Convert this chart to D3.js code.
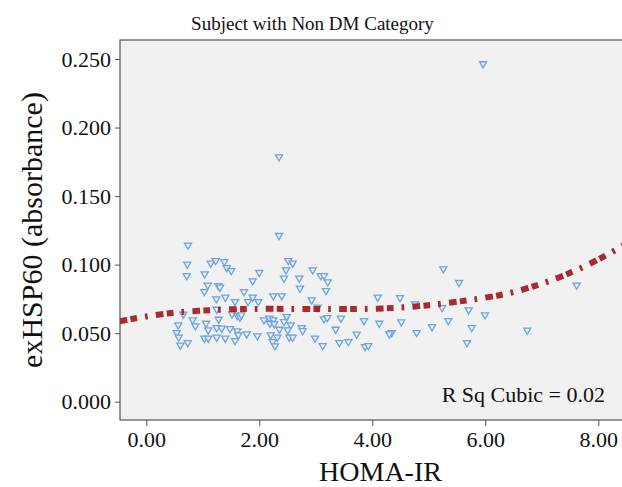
<!DOCTYPE html>
<html><head><meta charset="utf-8">
<script src="https://cdn.jsdelivr.net/npm/d3@7"></script>
<style>
html,body{margin:0;padding:0;background:#fff;}
svg{display:block;}
svg text{font-family:"Liberation Serif","Times New Roman",serif !important;}
</style></head>
<body><svg id="chart" width="622" height="487"></svg>
<script>
const titleText = "Subject with Non DM Category";
const xLabel = "HOMA-IR";
const yLabel = "exHSP60 (absorbance)";
const rsqText = "R Sq Cubic = 0.02";
const xTicks = [0, 2, 4, 6, 8];
const yTicks = [0, 0.05, 0.10, 0.15, 0.20, 0.25];

const homaIR = [
 0.738,0.726,0.715,1.140,1.228,1.381,1.423,1.504,1.034,1.087,1.274,1.304,1.027,1.239,1.398,1.570,1.729,1.800,
 0.655,1.246,1.517,1.611,1.658,0.821,0.867,0.566,1.281,1.057,1.097,1.246,1.335,1.481,1.611,1.628,1.777,
 0.538,0.573,1.027,1.097,1.246,1.398,1.570,0.602,0.733,
 2.349,2.513,2.591,2.000,2.473,2.437,2.945,3.087,3.145,3.211,3.181,2.708,2.720,1.883,2.248,2.396,1.883,1.982,
 2.927,4.096,3.034,1.681,2.083,2.177,2.248,2.189,2.265,2.485,2.437,2.556,2.354,2.503,2.750,2.768,3.145,3.204,
 3.446,3.853,3.352,3.724,4.124,1.965,2.202,2.319,2.237,2.278,2.531,2.591,2.986,3.122,3.416,3.575,3.871,3.929,
 5.257,5.535,4.490,4.756,5.234,5.706,5.995,4.513,5.345,5.057,5.759,4.343,4.301,4.786,6.743,7.618,5.676,
 5.960,2.349
];
const exHSP60 = [
 0.1142,0.1003,0.0920,0.1010,0.1029,0.1022,0.0978,0.0956,0.0932,0.0850,0.0847,0.0835,0.0803,0.0750,0.0762,0.0730,0.0803,0.0730,
 0.0638,0.0674,0.0640,0.0628,0.0616,0.0596,0.0553,0.0560,0.0601,0.0572,0.0523,0.0540,0.0536,0.0533,0.0516,0.0487,0.0494,
 0.0504,0.0470,0.0463,0.0463,0.0470,0.0463,0.0445,0.0412,0.0431,
 0.1212,0.1029,0.1010,0.0942,0.0961,0.0901,0.0961,0.0920,0.0920,0.0874,0.0810,0.0901,0.0828,0.0881,0.0772,0.0772,0.0762,0.0730,
 0.0742,0.0762,0.0689,0.0633,0.0596,0.0609,0.0596,0.0572,0.0567,0.0620,0.0584,0.0560,0.0528,0.0523,0.0540,0.0518,0.0604,0.0613,
 0.0609,0.0591,0.0528,0.0492,0.0572,0.0480,0.0487,0.0470,0.0438,0.0407,0.0470,0.0470,0.0463,0.0409,0.0431,0.0438,0.0401,0.0409,
 0.0969,0.0869,0.0759,0.0713,0.0686,0.0669,0.0633,0.0582,0.0591,0.0547,0.0540,0.0504,0.0494,0.0504,0.0521,0.0850,0.0431,
 0.2465,0.1786
];

// cubic fit line
const fitX = [-0.47, 0, 0.5, 1, 1.5, 2, 2.5, 3, 3.5, 4, 4.5, 5, 5.5, 6, 6.5, 7, 7.5, 8, 8.45];
const fitY = [0.0587,0.0622,0.0649,0.0665,0.0674,0.0677,0.0677,0.0676,0.0676,0.0678,0.0687,0.0704,0.0729,0.0759,0.0800,0.0861,0.0940,0.1038,0.1140];

const svg = d3.select("#chart");
const plot = {left:120, top:40, right:623, bottom:420};

const x = d3.scaleLinear().domain([0, 8]).range([146.3, 598.3]);
const y = d3.scaleLinear().domain([0, 0.25]).range([401.7, 59]);

svg.append("defs").append("clipPath").attr("id","clip")
  .append("rect").attr("x",plot.left).attr("y",plot.top)
  .attr("width",plot.right-plot.left).attr("height",plot.bottom-plot.top);

svg.append("rect").attr("x",plot.left).attr("y",plot.top)
  .attr("width",plot.right-plot.left).attr("height",plot.bottom-plot.top)
  .attr("fill","#f1f1f1").attr("stroke","#555").attr("stroke-width",1.2);

const serif = "Liberation Serif, Times New Roman, serif";

// axes
const yAxis = d3.axisLeft(y).tickValues(yTicks).tickFormat(d3.format(".3f")).tickSizeOuter(0).tickSize(5).tickPadding(4);
const gy = svg.append("g").attr("transform",`translate(${plot.left},0)`).call(yAxis)
  .attr("font-family", serif).attr("font-size", 22);
gy.select(".domain").remove();
gy.selectAll("line").attr("stroke","#555");
gy.selectAll("text").style("font-family",serif).style("font-size","22px").attr("fill","#111");

const xAxis = d3.axisBottom(x).tickValues(xTicks).tickFormat(d3.format(".2f")).tickSizeOuter(0).tickSize(6).tickPadding(5);
const gx = svg.append("g").attr("transform",`translate(0,${plot.bottom})`).call(xAxis)
  .attr("font-family", serif).attr("font-size", 22);
gx.select(".domain").remove();
gx.selectAll("line").attr("stroke","#555");
gx.selectAll("text").style("font-family",serif).style("font-size","22px").attr("fill","#111");

// points
const pts = homaIR.map((h,i)=>({x:h,y:exHSP60[i]}));
const tri = d3.symbol().type(d3.symbolTriangle).size(22);
svg.append("g").attr("clip-path","url(#clip)")
  .selectAll("path").data(pts).join("path")
  .attr("d", tri)
  .attr("transform", d=>`translate(${x(d.x)},${y(d.y)}) rotate(180)`)
  .attr("fill","#e6eef8").attr("stroke","#6fa3dc").attr("stroke-width",1.3);

// fit line
const fit = fitX.map((v,i)=>({x:v,y:fitY[i]}));
svg.append("path").attr("clip-path","url(#clip)")
  .datum(fit)
  .attr("d", d3.line().x(d=>x(d.x)).y(d=>y(d.y)).curve(d3.curveNatural))
  .attr("fill","none").attr("stroke","#a41f24").attr("stroke-width",6)
  .attr("stroke-dasharray","7.7,3.3,6.7,8,2.7,8.3").attr("opacity",0.95);

// texts
svg.append("text").attr("x",312.5).attr("y",30).attr("text-anchor","middle")
  .style("font-family",serif).attr("font-size","19px").attr("fill","#111").text(titleText);
svg.append("text").attr("x",380.5).attr("y",481).attr("text-anchor","middle")
  .style("font-family",serif).attr("font-size","28px").attr("fill","#111").text(xLabel);
svg.append("text").attr("transform","translate(42,230) rotate(-90)").attr("text-anchor","middle")
  .style("font-family",serif).attr("font-size","30px").attr("fill","#111").text(yLabel);
svg.append("text").attr("x",605).attr("y",401.5).attr("text-anchor","end")
  .style("font-family",serif).attr("font-size","22px").attr("fill","#111").text(rsqText);
</script></body></html>
